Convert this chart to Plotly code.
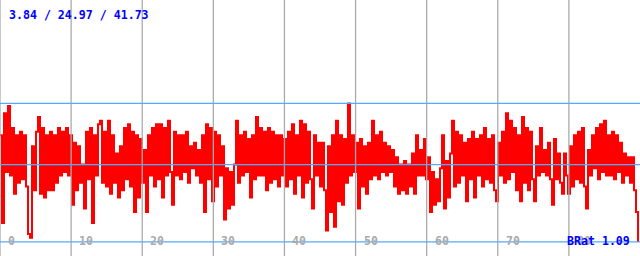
import plotly.graph_objects as go

# ---- data ----
values = [
    33, 9, 39, 23, 41,
    22, 35, 17, 33, 20,
    34, 21, 33, 19, 6,
    5, 30, 18, 34, 38,
    17, 35, 16, 33, 18,
    34, 18, 33, 20, 35,
    22, 34, 23, 35, 22,
    33, 14, 31, 18, 30,
    20, 25, 13, 34, 21,
    35, 9, 33, 22, 36,
    37, 20, 34, 19, 37,
    17, 33, 20, 28, 16,
    30, 18, 35, 21, 36,
    19, 34, 12, 33, 16,
    32, 20, 29, 12, 33,
    22, 35, 19, 36, 21,
    36, 16, 35, 22, 37,
    23, 14, 34, 22, 33,
    21, 33, 23, 34, 20,
    30, 24, 31, 22, 29,
    20, 33, 12, 36, 21,
    35, 15, 34, 19, 33,
    22, 30, 10, 24, 13,
    23, 14, 25, 37, 20,
    33, 22, 34, 23, 32,
    16, 33, 21, 38, 22,
    35, 22, 34, 18, 35,
    20, 34, 21, 33, 19,
    33, 22, 32, 19, 34,
    21, 36, 17, 33, 22,
    37, 16, 36, 20, 34,
    21, 13, 33, 22, 31,
    19, 31, 18, 7, 30,
    12, 33, 8, 37, 15,
    33, 14, 32, 20, 41.73,
    22, 33, 23, 31, 13,
    32, 19, 30, 17, 31,
    21, 37, 22, 33, 21,
    34, 23, 31, 22, 30,
    23, 29, 19, 27, 17,
    25, 18, 26, 17, 25,
    19, 28, 17, 33, 22,
    29, 22, 32, 21, 27,
    12, 23, 14, 21, 15,
    24, 33, 13, 26, 16,
    28, 37, 19, 34, 20,
    33, 22, 31, 15, 32,
    21, 34, 16, 32, 22,
    33, 19, 35, 21, 32,
    20, 33, 18, 15, 31,
    22, 34, 20, 39, 21,
    37, 23, 35, 18, 33,
    15, 38, 20, 35, 18,
    34, 21, 15, 30, 22,
    35, 23, 29, 22, 31,
    21, 14, 32, 21, 28,
    20, 17, 28, 22, 17,
    30, 19, 33, 21, 34,
    20, 35, 19, 13, 29,
    22, 33, 24, 35, 21,
    36, 23, 37, 22, 33,
    22, 34, 21, 33, 23,
    31, 20, 28, 22, 27,
    20, 27, 18, 12, 3.84,
]
x_span = 90.0
x_vals = [i * x_span / len(values) for i in range(len(values))]

tick_values = [0, 10, 20, 30, 40, 50, 60, 70, 80]
tick_labels = ["0", "10", "20", "30", "40", "50", "60", "70", "80"]
stat_min, stat_avg, stat_max = 3.84, 24.97, 41.73
stats_text = "3.84 / 24.97 / 41.73"
ratio_text = "BRat 1.09"

# ---- figure ----
fig = go.Figure()
fig.add_trace(go.Scatter(x=x_vals, y=values, mode="lines",
                         line=dict(color="#ff0000", width=2, shape="hv"),
                         hoverinfo="skip", showlegend=False))

shapes = []
for t in tick_values:
    shapes.append(dict(type="line", xref="x", yref="paper", x0=t, x1=t, y0=0, y1=1,
                       line=dict(color="#aaaaaa", width=1.3), layer="above"))
for s in (stat_min, stat_avg, stat_max):
    shapes.append(dict(type="line", xref="paper", yref="y", x0=0, x1=1, y0=s, y1=s,
                       line=dict(color="#55aaff", width=1.3), layer="above"))

mono = "DejaVu Sans Mono"
annotations = []
for t, lab in zip(tick_values, tick_labels):
    annotations.append(dict(x=t, y=15 / 256, xref="x", yref="paper", text=lab,
                            showarrow=False, xanchor="left", yanchor="middle", xshift=6,
                            font=dict(family=mono, size=11.6, color="#aaaaaa", weight="bold")))
annotations.append(dict(x=7 / 640, y=1 - 15 / 256, xref="paper", yref="paper", text=stats_text,
                        showarrow=False, xanchor="left", yanchor="middle",
                        font=dict(family=mono, size=11.6, color="#0000ff", weight="bold")))
annotations.append(dict(x=632 / 640, y=15 / 256, xref="paper", yref="paper", text=ratio_text,
                        showarrow=False, xanchor="right", yanchor="middle",
                        font=dict(family=mono, size=11.6, color="#0000ff", weight="bold")))

fig.update_layout(
    width=640, height=256,
    margin=dict(l=0, r=0, t=0, b=0),
    paper_bgcolor="white", plot_bgcolor="white",
    xaxis=dict(range=[0, x_span], visible=False, fixedrange=True),
    yaxis=dict(range=[0, 70], visible=False, fixedrange=True),
    shapes=shapes, annotations=annotations,
)
fig.write_html("out.html", config={"displayModeBar": False})
